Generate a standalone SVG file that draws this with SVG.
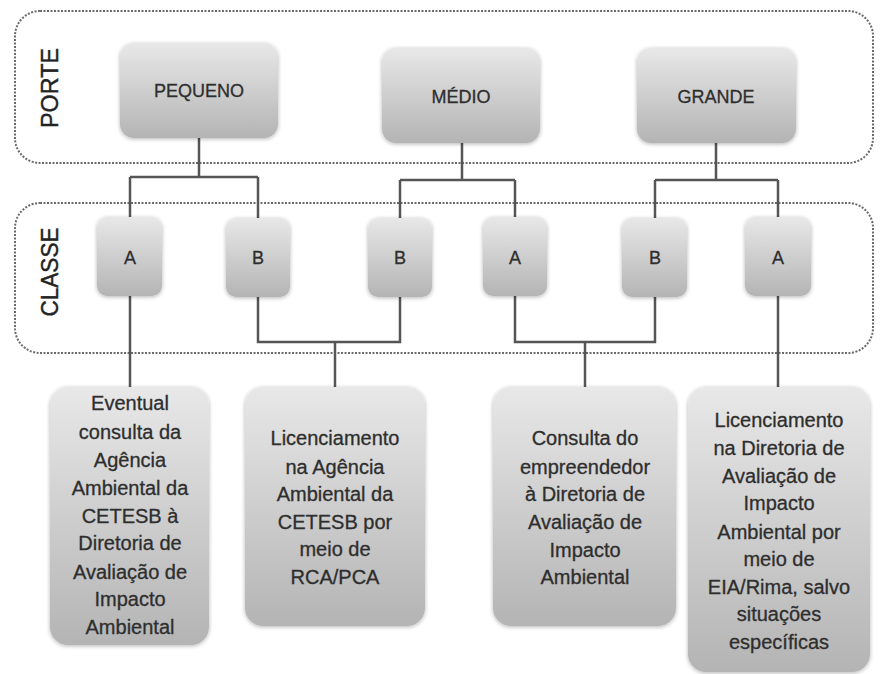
<svg xmlns="http://www.w3.org/2000/svg" width="885" height="674" viewBox="0 0 885 674">
<defs>
<linearGradient id="g" x1="0" y1="0" x2="0" y2="1">
<stop offset="0" stop-color="#e8e8e8"/>
<stop offset="1" stop-color="#b4b4b4"/>
</linearGradient>
<filter id="sh" x="-10%" y="-10%" width="120%" height="120%">
<feGaussianBlur in="SourceAlpha" stdDeviation="2"/>
<feOffset dx="0" dy="1" result="b"/>
<feComponentTransfer><feFuncA type="linear" slope="0.3"/></feComponentTransfer>
<feMerge><feMergeNode/><feMergeNode in="SourceGraphic"/></feMerge>
</filter>
</defs>
<style>
.frame{fill:none;stroke:#6a6a6a;stroke-width:2;stroke-dasharray:2 1.5}
.box{fill:url(#g);filter:url(#sh)}
.lbl{font-family:"Liberation Sans",Arial,sans-serif;fill:#2e2e2e;stroke:#2e2e2e;stroke-width:0.3;text-anchor:middle}
.t18{font-size:18px}
.t20{font-size:20px}
.side{font-family:"Liberation Sans",Arial,sans-serif;font-size:24px;fill:#222;stroke:#222;stroke-width:0.4;text-anchor:middle}
.conn{fill:none;stroke:#555;stroke-width:2.5}
</style>
<rect width="885" height="674" fill="#fff"/>
<g id="frame-porte">
<rect class="frame" x="15" y="11" width="858" height="152" rx="25"/>
<text class="side" transform="translate(58,88) rotate(-90)" textLength="80" lengthAdjust="spacingAndGlyphs">PORTE</text>
</g>
<g id="frame-classe">
<rect class="frame" x="15" y="203" width="858" height="150" rx="25"/>
<text class="side" transform="translate(58,272) rotate(-90)" textLength="89" lengthAdjust="spacingAndGlyphs">CLASSE</text>
</g>
<g id="connectors">
<path class="conn" d="M199 138V177M130 177H258M130 177V217M258 177V218"/>
<path class="conn" d="M462 143V180M400 180H515M400 180V218M515 180V217"/>
<path class="conn" d="M716 143V180M655 180H778M655 180V218M778 180V217"/>
<path class="conn" d="M130 296V387"/>
<path class="conn" d="M258 297V342H400V297M335 342V387"/>
<path class="conn" d="M515 296V342H655V297M585 342V387"/>
<path class="conn" d="M778 296V387"/>
</g>
<g id="pequeno"><rect class="box" x="120" y="43" width="158" height="95" rx="14"/><text class="lbl t18" x="199" y="97">PEQUENO</text></g>
<g id="medio"><rect class="box" x="382" y="48" width="158" height="95" rx="14"/><text class="lbl t18" x="461" y="103">MÉDIO</text></g>
<g id="grande"><rect class="box" x="637" y="48" width="159" height="95" rx="14"/><text class="lbl t18" x="716" y="103">GRANDE</text></g>
<g id="a1"><rect class="box" x="97" y="217" width="65" height="79" rx="10"/><text class="lbl t18" x="130" y="264">A</text></g>
<g id="b1"><rect class="box" x="226" y="218" width="64" height="79" rx="10"/><text class="lbl t18" x="258" y="264">B</text></g>
<g id="b2"><rect class="box" x="368" y="218" width="64" height="79" rx="10"/><text class="lbl t18" x="400" y="264">B</text></g>
<g id="a2"><rect class="box" x="483" y="217" width="64" height="79" rx="10"/><text class="lbl t18" x="515" y="264">A</text></g>
<g id="b3"><rect class="box" x="622" y="218" width="65" height="79" rx="10"/><text class="lbl t18" x="655" y="264">B</text></g>
<g id="a3"><rect class="box" x="745" y="217" width="66" height="79" rx="10"/><text class="lbl t18" x="778" y="264">A</text></g>
<g id="r1"><rect class="box" x="50" y="387" width="159" height="258" rx="18"/>
<text class="lbl t20" x="130"><tspan x="130" y="410">Eventual</tspan><tspan x="130" y="439">consulta da</tspan><tspan x="130" y="467">Agência</tspan><tspan x="130" y="495">Ambiental da</tspan><tspan x="130" y="523">CETESB à</tspan><tspan x="130" y="550">Diretoria de</tspan><tspan x="130" y="579">Avaliação de</tspan><tspan x="130" y="606">Impacto</tspan><tspan x="130" y="634">Ambiental</tspan></text></g>
<g id="r2"><rect class="box" x="245" y="387" width="180" height="239" rx="18"/>
<text class="lbl t20" x="335"><tspan x="335" y="445">Licenciamento</tspan><tspan x="335" y="474">na Agência</tspan><tspan x="335" y="501">Ambiental da</tspan><tspan x="335" y="529">CETESB por</tspan><tspan x="335" y="556">meio de</tspan><tspan x="335" y="584">RCA/PCA</tspan></text></g>
<g id="r3"><rect class="box" x="493" y="387" width="183" height="239" rx="18"/>
<text class="lbl t20" x="585"><tspan x="585" y="445">Consulta do</tspan><tspan x="585" y="474">empreendedor</tspan><tspan x="585" y="501">à Diretoria de</tspan><tspan x="585" y="529">Avaliação de</tspan><tspan x="585" y="557">Impacto</tspan><tspan x="585" y="584">Ambiental</tspan></text></g>
<g id="r4"><rect class="box" x="688" y="387" width="182" height="285" rx="18"/>
<text class="lbl t20" x="779"><tspan x="779" y="427">Licenciamento</tspan><tspan x="779" y="455">na Diretoria de</tspan><tspan x="779" y="483">Avaliação de</tspan><tspan x="779" y="510">Impacto</tspan><tspan x="779" y="539">Ambiental por</tspan><tspan x="779" y="566">meio de</tspan><tspan x="779" y="594">EIA/Rima, salvo</tspan><tspan x="779" y="621">situações</tspan><tspan x="779" y="649">específicas</tspan></text></g>
</svg>
